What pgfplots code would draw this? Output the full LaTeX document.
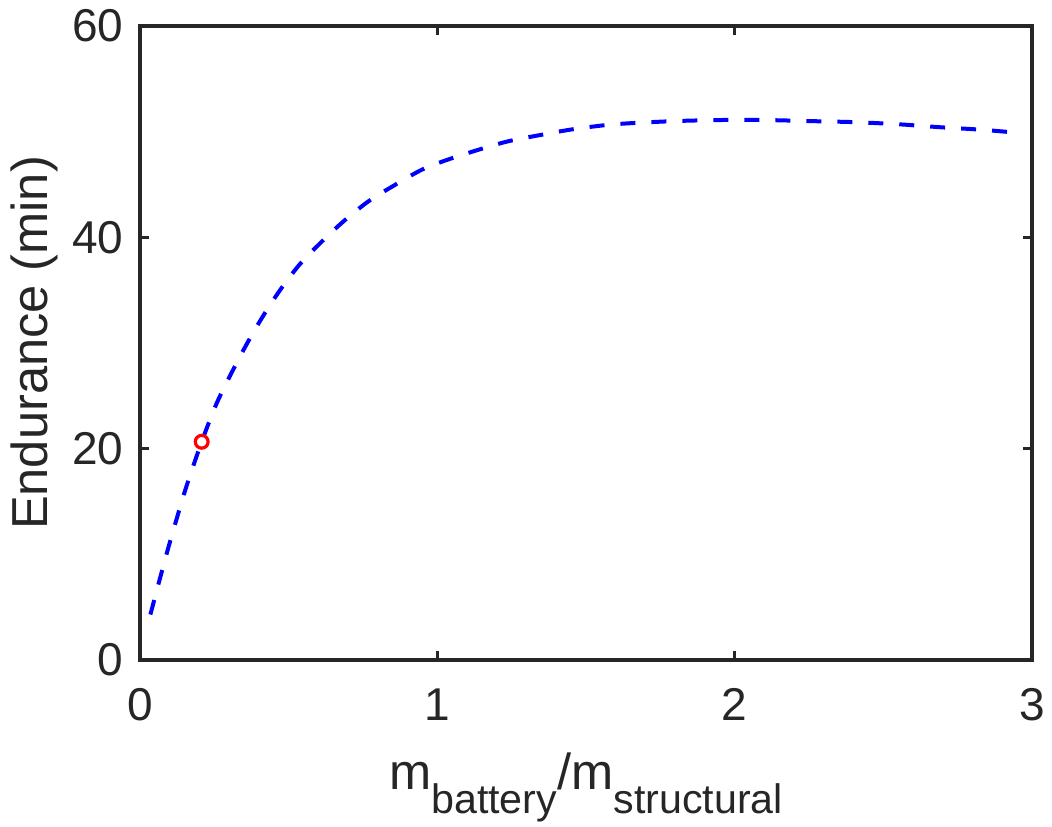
\documentclass[border=0pt]{standalone}
\usepackage{pgfplots}
\pgfplotsset{compat=1.18}
\usetikzlibrary{calc}
\usepackage{fontspec}
\setmainfont{Liberation Sans}

\definecolor{axgray}{RGB}{38,38,38}
\definecolor{curveblue}{RGB}{0,0,255}
\definecolor{markred}{RGB}{255,0,0}

% endurance versus battery-to-structural mass ratio
\pgfplotstableread{
ratio  endurance
0.035  4.3
0.067  7.7
0.095  10.6
0.129  13.9
0.157  16.5
0.2075 20.65
0.258  24.3
0.312  27.4
0.361  30.0
0.415  32.6
0.471  35.0
0.536  37.4
0.608  39.5
0.684  41.5
0.768  43.4
0.854  44.9
0.948  46.4
1.03   47.3
1.14   48.3
1.24   49.1
1.35   49.7
1.45   50.2
1.56   50.6
1.65   50.8
1.80   51.0
1.95   51.1
2.10   51.1
2.25   51.0
2.40   50.9
2.55   50.7
2.70   50.4
2.82   50.2
2.95   49.9
}\endurancedata

\begin{document}
\begin{tikzpicture}
\begin{axis}[
  scale only axis,
  width=223pt, height=158.5pt,
  xmin=0, xmax=3, ymin=0, ymax=60,
  xtick={0,1,2,3}, ytick={0,20,40,60},
  axis line style={axgray, line width=1pt},
  tick style={axgray, line width=0.8pt},
  tick align=inside,
  major tick length=2.3pt,
  every tick label/.append style={font=\fontsize{11.5}{13}\selectfont, text=axgray},
  /pgf/number format/assume math mode=true,
  xticklabel style={yshift=-3.6pt, inner xsep=0pt},
  yticklabel style={xshift=-0.6pt, inner ysep=0pt},
  label style={font=\fontsize{12.65}{14}\selectfont, text=axgray, inner sep=0pt},
  xlabel={m\raisebox{-5.9pt}{\fontsize{10.3}{12}\selectfont battery}/m\raisebox{-5.9pt}{\fontsize{10.3}{12}\selectfont structural}},
  xlabel style={at={(axis description cs:0.5,-0.205)}, anchor=base},
  ylabel={Endurance (min)},
  ylabel style={at={(axis description cs:-0.118,0.5)}, anchor=center},
]
\addplot[curveblue, line width=1pt, dash pattern=on 3.75pt off 4pt, smooth]
  table[x=ratio, y=endurance] {\endurancedata};
\addplot[only marks, mark=o, mark size=1.6pt, markred, mark options={line width=0.8pt}]
  coordinates {(0.2075,20.65)};
\end{axis}
\path ($(current axis.south west)+(-35pt,-41.75pt)$) rectangle ($(current axis.north east)+(5pt,6.5pt)$);
\end{tikzpicture}
\end{document}
